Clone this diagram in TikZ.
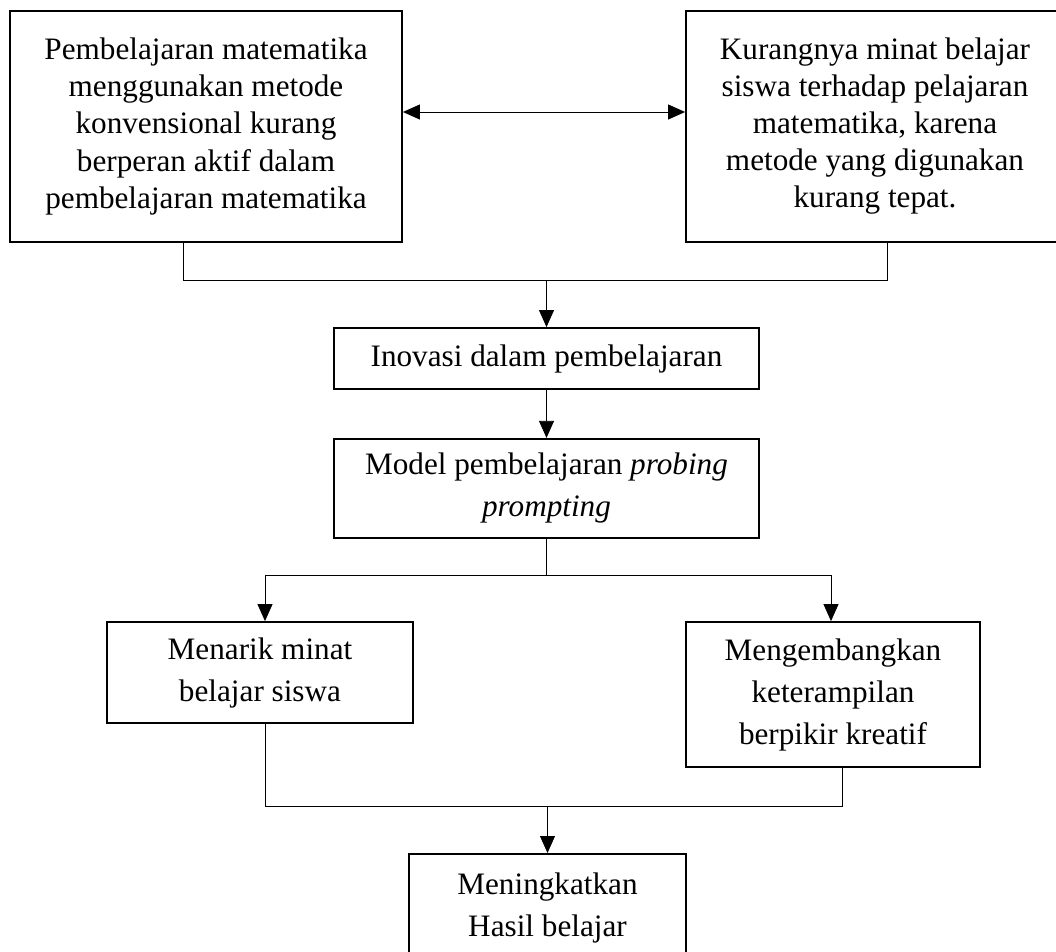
\documentclass[tikz,border=0pt]{standalone}
\usepackage{fontspec}
\setmainfont{Liberation Serif}
\usetikzlibrary{arrows.meta, positioning, calc}
\tikzset{
  box/.style    = {draw, rectangle, line width=0.9pt,
                   align=center, inner sep=2pt,
                   font=\fontsize{15.6}{21}\selectfont},
  tbox/.style   = {box, minimum height=115.5pt,
                   font=\fontsize{15.6}{18.5}\selectfont},
  >={Triangle[length=8.5pt, width=7.5pt]}, line width=0.9pt
}

\begin{document}
\begin{tikzpicture}[x=0.5pt, y=-0.5pt]

  \useasboundingbox (0,0) rectangle (1056,952);
  \clip (0,0) rectangle (1056,952);

  %%──────────────────────────────────────────────────────────────────────────
  %%  PROBLEM BOXES
  %%──────────────────────────────────────────────────────────────────────────
  \node[tbox, minimum width=196pt] (masalahA) at (206,126.5)
        {Pembelajaran matematika\\
         menggunakan metode\\
         konvensional kurang\\
         berperan aktif dalam\\
         pembelajaran matematika};
  \node[tbox, minimum width=189pt] (masalahB) at (875,126.5)
        {Kurangnya minat belajar\\
         siswa terhadap pelajaran\\
         matematika, karena\\
         metode yang digunakan\\
         kurang tepat.};

  %%──────────────────────────────────────────────────────────────────────────
  %%  MAIN PATH
  %%──────────────────────────────────────────────────────────────────────────
  \node[box, minimum width=212.5pt, minimum height=30.5pt] (inovasi) at (546.5,358.5)
        {Inovasi dalam pembelajaran};
  \node[box, minimum width=212.5pt, minimum height=49.5pt,
        below=24pt of inovasi] (model)
        {Model pembelajaran \textit{probing}\\
         \textit{prompting}};

  \node[box, minimum width=153pt, minimum height=50.5pt] (menarik) at (260,672.5)
        {Menarik minat\\
         belajar siswa};
  \node[box, minimum width=147pt, minimum height=72.5pt] (kembang) at (833,694.5)
        {Mengembangkan\\
         keterampilan\\
         berpikir kreatif};

  %% result box runs past the lower edge
  \node[box, minimum width=138.5pt, anchor=north] (hasil) at (547.5,853)
        {\rule{0pt}{18.5pt}Meningkatkan\\
         Hasil belajar\rule[-20pt]{0pt}{20pt}};

  %%──────────────────────────────────────────────────────────────────────────
  %%  CONNECTORS
  %%──────────────────────────────────────────────────────────────────────────
  \coordinate (lvl)   at (0,112);
  \draw[<->] (masalahA.east |- lvl) -- (masalahB.west |- lvl);

  %% join of the two problems
  \coordinate (busA)  at (183,280);
  \coordinate (busB)  at (887,280);
  \draw (masalahA.south -| busA) -- (busA) -- (busB) -- (masalahB.south -| busB);
  \draw[->] (busA -| inovasi) -- (inovasi.north);

  \draw[->] (inovasi.south) -- (model.north);

  %% split into the two effects
  \coordinate (splitL) at (265,575);
  \coordinate (splitR) at (831,575);
  \draw (model.south) -- (model.south |- splitL);
  \draw (splitL) -- (splitR);
  \draw[->] (splitL) -- (splitL |- menarik.north);
  \draw[->] (splitR) -- (splitR |- kembang.north);

  %% join into the result
  \coordinate (joinL) at (265,806);
  \coordinate (joinR) at (842,806);
  \draw (joinL |- menarik.south) -- (joinL) -- (joinR) -- (joinR |- kembang.south);
  \draw[->] (joinL -| hasil) -- (hasil.north);

\end{tikzpicture}
\end{document}
